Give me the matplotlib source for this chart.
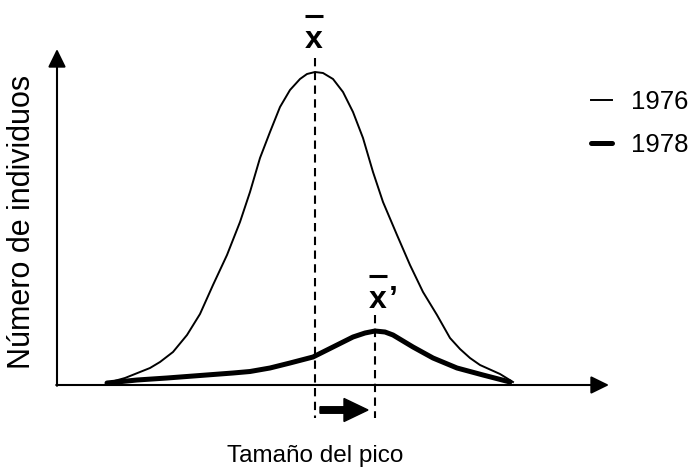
import matplotlib
matplotlib.use("Agg")
import matplotlib.pyplot as plt

plt.rcParams['font.family'] = ['Liberation Sans', 'DejaVu Sans']

# Curves (arbitrary units: beak size vs. number of individuals)
x_1976 = [5.0, 6.8, 8.3, 9.3, 10.3, 11.6, 13.0, 14.3, 15.6, 17.0, 18.3, 19.3,
          20.3, 21.3, 22.3, 23.3, 24.3, 25.0, 25.8, 26.6, 27.6, 28.6, 29.6,
          30.6, 31.6, 32.6, 34.0, 35.3, 36.6, 38.0, 39.3, 40.3, 41.3, 42.3,
          44.3, 45.6]
y_1976 = [0.2, 0.7, 1.3, 1.7, 2.3, 3.3, 5.0, 7.1, 10.0, 13.0, 16.3, 19.3,
          22.7, 25.3, 27.8, 29.5, 30.6, 31.1, 31.3, 31.2, 30.6, 29.3, 27.3,
          24.7, 21.3, 18.3, 15.0, 12.0, 9.3, 7.0, 4.7, 3.6, 2.7, 2.0,
          1.1, 0.3]

x_1978 = [5.0, 8.0, 11.0, 14.3, 17.6, 19.3, 21.3, 23.3, 25.6, 27.6, 29.6,
          30.8, 31.8, 32.8, 33.6, 35.6, 37.6, 40.0, 42.6, 45.3]
y_1978 = [0.2, 0.5, 0.7, 0.95, 1.2, 1.35, 1.7, 2.2, 2.8, 3.8, 4.8,
          5.2, 5.4, 5.3, 5.0, 3.8, 2.7, 1.7, 1.0, 0.3]

labels = ['1976', '1978']
mean_1976 = 25.8
mean_1978 = 31.8

fig = plt.figure(figsize=(6.91, 4.73), dpi=100)
ax = fig.add_axes([0, 0, 1, 1])
ax.set_xlim(-5.7, 63.4)
ax.set_ylim(-8.8, 38.5)
ax.axis('off')

ax.plot(x_1976, y_1976, color='black', lw=1.4, label=labels[0],
        solid_joinstyle='round')
ax.plot(x_1978, y_1978, color='black', lw=3.6, label=labels[1],
        solid_joinstyle='round', solid_capstyle='round')

# axes with arrow heads
arrow = dict(arrowstyle='-|>,head_length=0.55,head_width=0.27',
             mutation_scale=20, lw=1.5, color='black', shrinkA=0, shrinkB=0)
ax.annotate('', xy=(0, 33.6), xytext=(0, -0.08), arrowprops=arrow)
ax.annotate('', xy=(55.2, 0), xytext=(-0.08, 0), arrowprops=arrow)

# mean markers
ax.plot([mean_1976, mean_1976], [32.7, -3.3], color='black', lw=1.5,
        linestyle=(0, (4, 2.6)))
ax.plot([mean_1978, mean_1978], [7.0, -3.3], color='black', lw=1.5,
        linestyle=(0, (4, 2.6)))

ax.text(mean_1976 - 0.1, 33.7, 'x', ha='center', va='baseline',
        fontsize=23, fontweight='bold')
ax.plot([mean_1976 - 1.0, mean_1976 + 0.8], [36.9, 36.9], color='black',
        lw=2.2, solid_capstyle='butt')
ax.text(mean_1978 + 0.3, 7.7, 'x', ha='center', va='baseline',
        fontsize=23, fontweight='bold')
ax.text(mean_1978 + 1.4, 7.7, '’', ha='left', va='baseline',
        fontsize=23, fontweight='bold')
ax.plot([mean_1978 - 0.6, mean_1978 + 1.2], [10.9, 10.9], color='black',
        lw=2.2, solid_capstyle='butt')

# shift arrow
ax.arrow(mean_1976 + 0.5, -2.5, mean_1978 - mean_1976 - 1.2, 0, width=0.65,
         head_width=2.3, head_length=2.4, length_includes_head=True,
         color='black')

ax.text(-3.5, 16.3, 'Número de individuos', rotation=90, ha='center',
        va='center', fontsize=22)
ax.text(mean_1976, -7.1, 'Tamaño del pico', ha='center', va='center',
        fontsize=17.5)

ax.legend(loc='upper left', bbox_to_anchor=(591 / 691, 1 - 90 / 473),
          frameon=False, fontsize=18.5, handlelength=0.82, handletextpad=0.74,
          labelspacing=0.74, borderaxespad=0, borderpad=0)

fig.savefig('out.png', dpi=100)
